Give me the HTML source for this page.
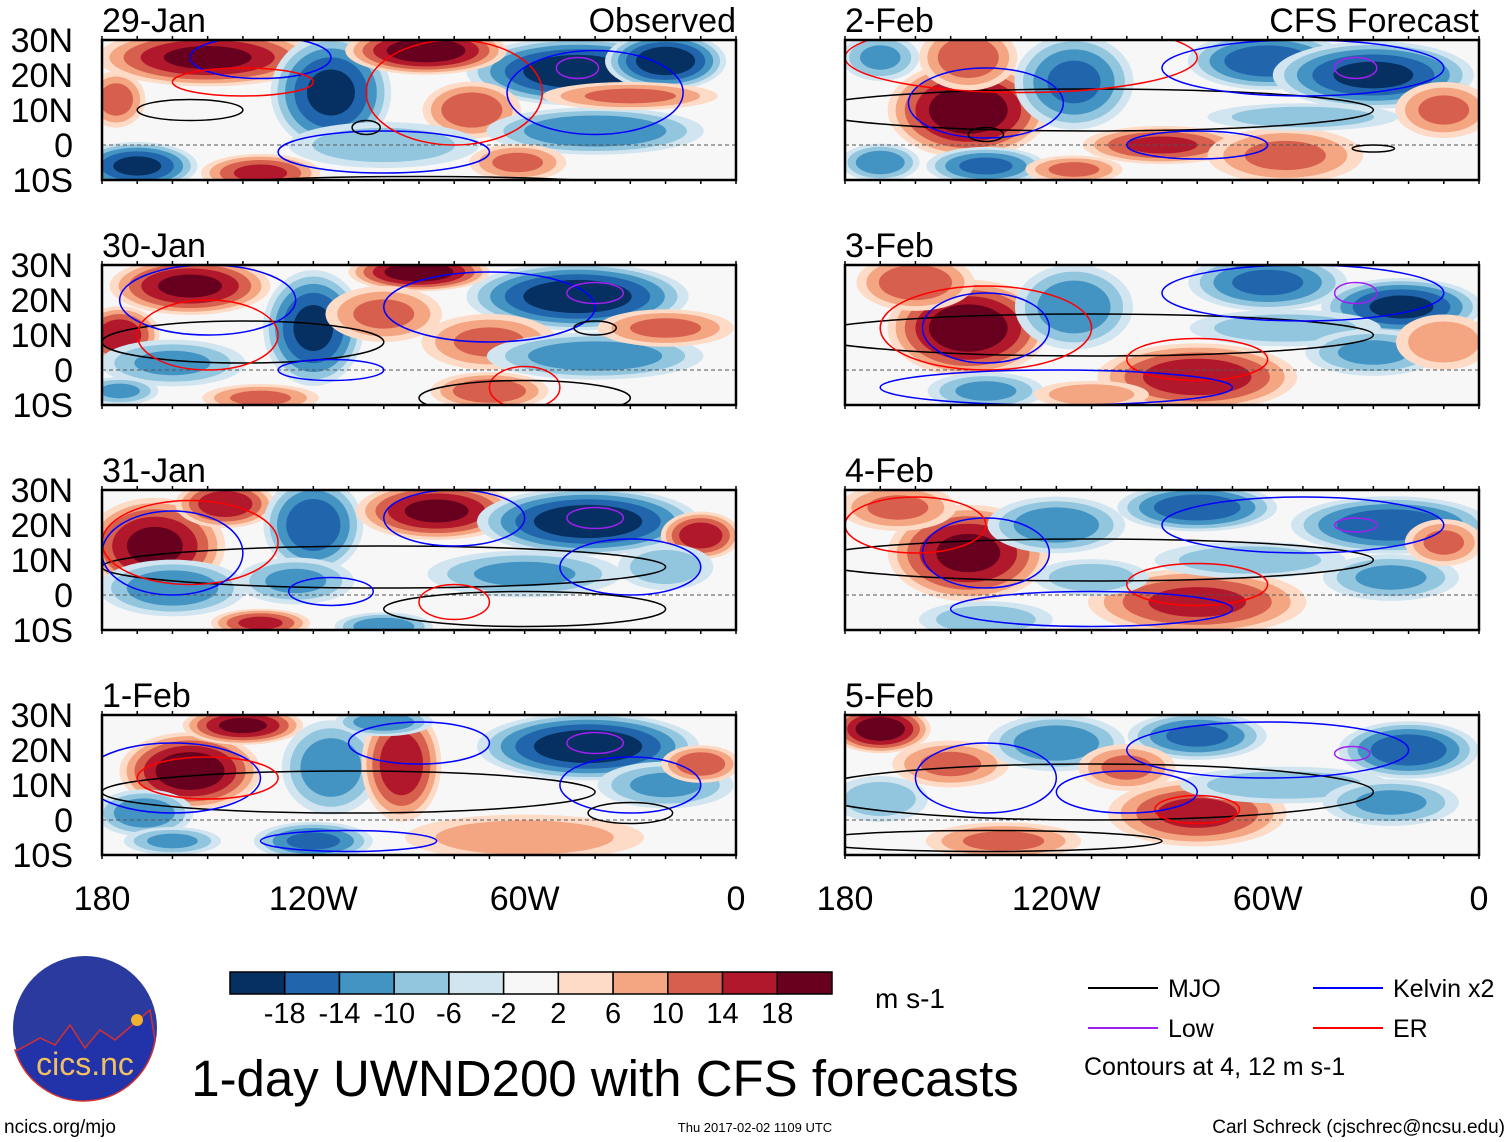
<!DOCTYPE html>
<html><head><meta charset="utf-8"><style>
body{margin:0;background:#fff;width:1510px;height:1142px;overflow:hidden;font-family:"Liberation Sans",sans-serif;}
svg{position:absolute;left:0;top:0}
</style></head><body>
<svg id="chart" width="1510" height="1142" viewBox="0 0 1510 1142"></svg>
<script>
// ---- data ----
const panelDates = ["29-Jan","30-Jan","31-Jan","1-Feb","2-Feb","3-Feb","4-Feb","5-Feb"];
const latTicks = ["30N","20N","10N","0","10S"];
const latValues = [30,20,10,0,-10];
const lonTicks = ["180","120W","60W","0"];
const lonValues = [180,120,60,0];
const cbLevels = [-18,-14,-10,-6,-2,2,6,10,14,18];
// blobs: [lonW, lat, rxDeg, ryDeg, value]
const blobs0 = [[150,25,22,6,16],[115,15,12,12,-16],[45,21,22,7,-18],[88,27,16,5,18],[20,24,12,6,-18],[170,-6,12,5,-16],[135,-8,12,4,12],[75,10,10,6,10],[40,4,22,5,-11],[62,-5,10,4,8],[176,13,6,6,9],[30,14,18,3,8],[100,0,20,5,-6]];
const blobs1 = [[155,24,16,6,16],[175,10,8,6,14],[120,12,10,12,-16],[45,21,22,7,-18],[90,28,14,4,18],[100,16,12,6,8],[160,2,15,5,-8],[70,8,14,6,8],[40,4,22,5,-10],[70,-6,12,4,10],[20,12,14,4,8],[135,-8,12,3,8],[175,-6,8,3,-8]];
const blobs2 = [[165,14,14,10,16],[145,26,10,5,14],[120,20,10,10,-14],[85,24,16,6,16],[42,21,22,7,-18],[10,17,8,5,14],[160,2,15,6,-10],[125,4,12,5,-8],[60,6,20,5,-8],[135,-8,10,3,12],[100,-9,10,3,-10],[20,8,10,5,-6]];
const blobs3 = [[155,14,14,8,18],[140,27,12,4,16],[115,15,10,10,-10],[95,16,8,12,14],[42,21,22,7,-18],[100,28,10,3,-10],[168,2,10,5,-10],[120,-6,12,4,-12],[60,-5,25,5,6],[20,10,14,5,-8],[10,16,8,4,10],[160,-6,10,3,-8]];
const blobs4 = [[145,10,16,10,18],[145,25,10,7,10],[170,25,8,5,-8],[115,18,12,10,-12],[60,24,16,6,-14],[30,20,20,7,-16],[90,0,16,4,12],[140,-6,12,4,-12],[55,-3,16,6,8],[170,-5,8,4,-10],[10,10,10,6,8],[115,-7,10,3,8],[50,8,20,3,-6]];
const blobs5 = [[145,12,16,10,18],[160,25,12,6,10],[115,18,12,9,-10],[60,25,16,6,-12],[22,18,16,6,-16],[80,-2,20,7,14],[140,-6,12,4,-8],[55,12,20,4,-6],[30,5,14,5,-8],[10,8,10,6,6],[110,-7,12,3,6]];
const blobs6 = [[145,12,16,10,16],[165,25,12,5,8],[120,20,14,6,-10],[80,25,16,5,-14],[25,20,20,6,-14],[80,-2,22,7,12],[140,-7,14,4,-6],[65,10,20,4,-6],[25,5,14,5,-8],[10,15,8,5,8],[110,5,12,4,-6]];
const blobs7 = [[170,26,10,5,18],[150,16,12,5,8],[120,22,14,6,-10],[80,24,14,5,-12],[20,20,14,6,-14],[80,2,18,7,12],[135,-6,16,4,8],[55,10,22,4,-6],[25,5,14,5,-8],[170,6,10,5,-6],[100,15,10,5,8]];
const allBlobs = [blobs0,blobs1,blobs2,blobs3,blobs4,blobs5,blobs6,blobs7];
// contours: [type, lonW, lat, rxDeg, ryDeg]  type: m=MJO k=Kelvin e=ER l=Low
const cont0 = [["m",155,10,15,3],["k",135,25,20,6],["k",100,-2,30,6],["e",80,15,25,15],["k",40,15,25,12],["l",45,22,6,3],["m",105,5,4,2],["e",140,18,20,4],["m",90,-12,60,3]];
const cont1 = [["m",140,8,40,6],["k",150,20,25,10],["k",115,0,15,3],["e",150,10,20,10],["k",70,18,30,10],["l",40,22,8,3],["m",40,12,6,2],["e",60,-5,10,6],["m",60,-8,30,5]];
const cont2 = [["m",100,8,80,6],["e",155,15,25,12],["k",160,12,20,12],["k",115,1,12,4],["k",80,22,20,8],["l",40,22,8,3],["k",30,8,20,8],["m",60,-4,40,5],["e",80,-2,10,5]];
const cont3 = [["m",110,8,70,6],["k",160,12,25,10],["e",150,12,20,6],["k",90,22,20,6],["l",40,22,8,3],["k",30,10,20,8],["m",30,2,12,3],["k",110,-6,25,3]];
const cont4 = [["m",110,10,80,6],["k",140,12,22,10],["k",80,0,20,4],["e",130,25,50,10],["k",50,22,40,8],["l",35,22,6,3],["m",140,3,5,2],["m",30,-1,6,1]];
const cont5 = [["m",110,10,80,6],["k",140,12,18,10],["e",80,3,20,6],["k",50,22,40,8],["l",35,22,6,3],["e",140,12,30,12],["k",120,-5,50,5]];
const cont6 = [["m",110,10,80,6],["k",140,12,18,10],["e",80,3,20,6],["k",50,20,40,8],["l",35,20,6,2],["e",160,20,20,8],["k",110,-4,40,5]];
const cont7 = [["m",110,8,80,8],["k",140,12,20,10],["e",80,3,12,4],["k",60,20,40,8],["l",36,19,5,2],["k",100,8,20,6],["m",140,-6,50,3]];
const allCont = [cont0,cont1,cont2,cont3,cont4,cont5,cont6,cont7];

const posCol = ["#fddbc7","#f4a582","#d6604d","#b2182b","#67001f"];
const negCol = ["#d1e5f0","#92c5de","#4393c3","#2166ac","#053061"];
const cbCols = ["#053061","#2166ac","#4393c3","#92c5de","#d1e5f0","#f7f7f7","#fddbc7","#f4a582","#d6604d","#b2182b","#67001f"];
const contCol = {m:"#000",k:"#0000ff",e:"#ff0000",l:"#a020f0"};
const thr = [2,6,10,14,18];

const NS="http://www.w3.org/2000/svg";
const svg=document.getElementById('chart');
function el(tag,attrs,parent){const e=document.createElementNS(NS,tag);for(const k in attrs)e.setAttribute(k,attrs[k]);(parent||svg).appendChild(e);return e;}
function txt(s,x,y,size,anchor,parent){const t=el('text',{x:x,y:y,'font-size':size,'text-anchor':anchor||'start','font-family':'Liberation Sans, sans-serif',fill:'#000'},parent);t.textContent=s;return t;}

const panelX=[102,845], panelY=[40,265,490,715], PW=634, PH=140;
for(let p=0;p<8;p++){
  const col=p<4?0:1,row=p%4;
  const x0=panelX[col],y0=panelY[row];
  const xs=lon=>x0+(180-lon)/180*PW;
  const ys=lat=>y0+(30-lat)/40*PH;
  const g=el('g',{});
  
  
  el('clipPath',{id:'c'+p},g);
  el('rect',{x:x0,y:y0,width:PW,height:PH},document.getElementById('c'+p));
  const inner=el('g',{'clip-path':'url(#c'+p+')'},g);
  el('rect',{x:x0,y:y0,width:PW,height:PH,fill:'#f7f7f7'},inner);
  allBlobs[p].forEach(b=>{
    const [lon,lat,rx,ry,v]=b, a=Math.abs(v)+3;
    thr.forEach((t,i)=>{ if(t<a){ const s=Math.sqrt(1-t/(a+2));
      const e=el('ellipse',{cx:xs(lon),cy:ys(lat),rx:1.5*rx*s*PW/180,ry:1.45*ry*s*PH/40,fill:(v>0?posCol:negCol)[i]},inner);
      
      
    }});
  });
  el('line',{x1:x0,x2:x0+PW,y1:ys(0),y2:ys(0),stroke:'#555','stroke-dasharray':'4,3','stroke-width':1},inner);
  allCont[p].forEach(c=>{
    const e=el('ellipse',{cx:xs(c[1]),cy:ys(c[2]),rx:c[3]*PW/180,ry:c[4]*PH/40,fill:'none',stroke:contCol[c[0]],'stroke-width':1.5},inner);
    
    
  });
  el('rect',{x:x0,y:y0,width:PW,height:PH,fill:'none',stroke:'#000','stroke-width':2.5},g);
  for(let l=0;l<=180;l+=10){el('line',{x1:xs(l),x2:xs(l),y1:y0,y2:y0-4,stroke:'#000','stroke-width':1.5},g);el('line',{x1:xs(l),x2:xs(l),y1:y0+PH,y2:y0+PH+4,stroke:'#000','stroke-width':1.5},g);}
  if(col===0) latTicks.forEach((s,i)=>txt(s,73,ys(latValues[i])+12,34,'end',g));
  txt(panelDates[p],x0,y0-8,34,'start',g);
  if(row===0) txt(col===0?'Observed':'CFS Forecast',x0+PW,y0-8,34,'end',g);
  if(row===3) lonTicks.forEach((s,i)=>txt(s,xs(lonValues[i]),910,34,'middle',g));
}
// colorbar
const cb=el('g',{});
const cbw=602/11;
cbCols.forEach((c,i)=>el('rect',{x:230+i*cbw,y:972,width:cbw,height:22,fill:c,stroke:'#000','stroke-width':1.5},cb));
cbLevels.forEach((v,i)=>txt(String(v),230+(i+1)*cbw,1023,29,'middle',cb));
txt('m s-1',910,1008,28,'middle',cb);
// legend
const lg=el('g',{});
[["MJO","#000",1088,988],["Low","#a020f0",1088,1028],["Kelvin x2","#0000ff",1313,988],["ER","#ff0000",1313,1028]].forEach(a=>{
  el('line',{x1:a[2],x2:a[2]+70,y1:a[3],y2:a[3],stroke:a[1],'stroke-width':2},lg);txt(a[0],a[2]+80,a[3]+9,25,'start',lg);});
txt('Contours at 4, 12 m s-1',1084,1075,25,'start',lg);
// logo
const lo=el('g',{});
el('circle',{cx:85,cy:1028,r:72,fill:'#2a3a9e'},lo);
el('path',{d:'M18,1050 L40,1038 L55,1045 L70,1025 L85,1048 L100,1030 L115,1040 L150,1010 L155,1040 A72 72 0 0 1 15 1050Z',fill:'#2233aa',stroke:'#d03030','stroke-width':1.5},lo);
el('circle',{cx:137,cy:1020,r:6,fill:'#f0b030'},lo);
const lt=txt('cics.nc',85,1075,32,'middle',lo);lt.setAttribute('fill','#f0c060');
txt('ncics.org/mjo',4,1133,19,'start');
const t1=txt('1-day UWND200 with CFS forecasts',605,1096,51,'middle');
txt('Thu 2017-02-02 1109 UTC',755,1132,13,'middle');
txt('Carl Schreck (cjschrec@ncsu.edu)',1505,1133,19,'end');
</script>
</body></html>
